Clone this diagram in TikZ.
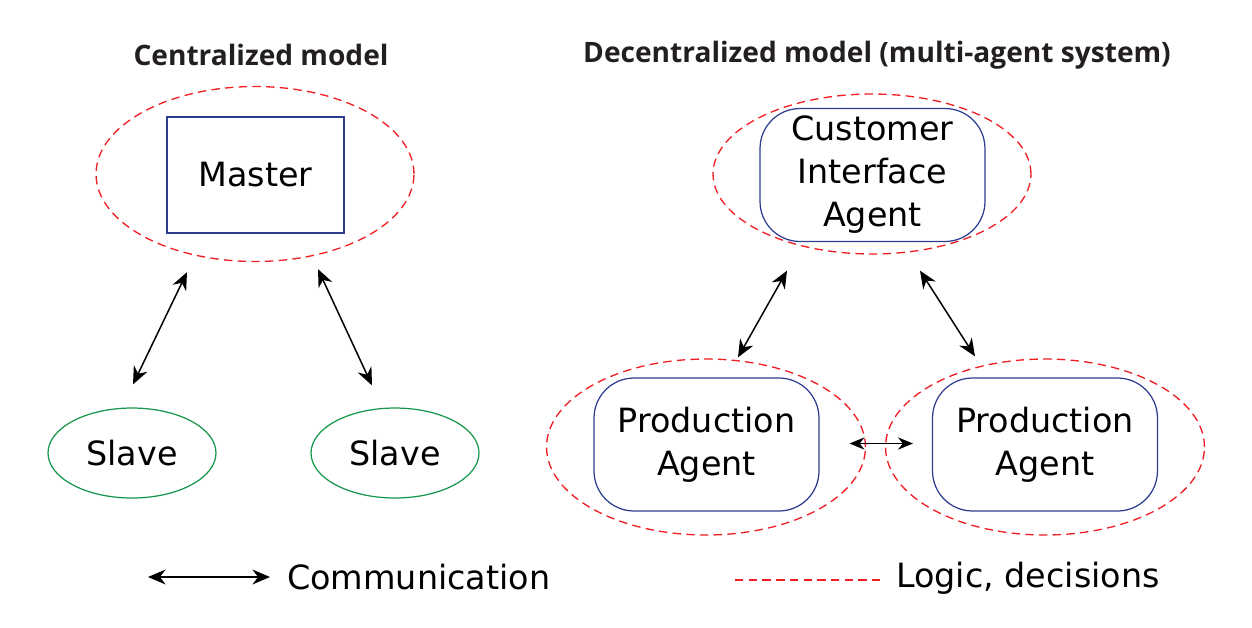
\documentclass[tikz,border=0pt]{standalone}
\usepackage{fontspec}
\setmainfont{DejaVu Sans}
\newfontfamily\titlefont{Open Sans}
\usetikzlibrary{arrows.meta,calc,shapes.geometric}
\definecolor{mdlogic}{RGB}{240,30,35}
\definecolor{mdbox}{RGB}{45,60,145}
\definecolor{mdslave}{RGB}{20,150,75}
\definecolor{mdtitle}{RGB}{35,31,32}
\tikzset{
  txt/.style={font=\fontsize{19}{24.5}\selectfont, align=center},
  ttl/.style={font=\titlefont\bfseries\fontsize{16}{19}\selectfont, text=mdtitle},
  logic/.style={draw=mdlogic, line width=0.75pt, dash pattern=on 4.8pt off 3pt},
  lell/.style={logic, ellipse, minimum width=6.36cm, minimum height=3.5cm},
  master/.style={txt, draw=mdbox, line width=0.7pt, minimum width=3.54cm, minimum height=2.32cm},
  agent/.style={txt, draw=mdbox, line width=0.7pt, rounded corners=0.8cm,
    minimum width=4.5cm, minimum height=2.66cm},
  slave/.style={txt, draw=mdslave, line width=0.7pt, ellipse,
    minimum width=3.36cm, minimum height=1.8cm},
  comm/.style={{Stealth[length=10pt,width=8.5pt]}-{Stealth[length=10pt,width=8.5pt]}, line width=0.85pt},
  scomm/.style={comm, {Stealth[length=8.5pt,width=7pt]}-{Stealth[length=8.5pt,width=7pt]}}
}
\begin{document}
\begin{tikzpicture}[x=0.02cm, y=-0.02cm]
  \useasboundingbox (0,0) rectangle (1252,627);

  % centralized side
  \node[ttl] (tc) at (261,55) {Centralized model};
  \node[lell] (mell) at (255,174) {};
  \node[master] (mst) at (255.5,175) {Master};
  \node[slave] (slaveL) at (132,453) {Slave};
  \node[slave] (slaveR) at (395,453) {Slave};
  \draw[comm] ($(mell.south)+(-68,10)$) -- ($(slaveL.north)+(1,-23)$);
  \draw[comm] ($(mell.south)+(63,7)$) -- ($(slaveR.north)+(-23,-22)$);

  % decentralized side
  \node[ttl] (td) at (877,55) {Decentralized model (multi-agent system)};
  \node[lell, minimum height=3.2cm] (cell) at (872,174) {};
  \node[agent] (cust) at (872.5,175) {Customer\\Interface\\Agent};
  \node[lell, minimum width=6.38cm, minimum height=3.52cm] (pell1) at (706,447) {};
  \node[lell, minimum width=6.38cm, minimum height=3.52cm] (pell2) at (1045,447) {};
  \node[agent] (prod1) at (706.5,444.5) {Production\\Agent};
  \node[agent] (prod2) at (1045,444.5) {Production\\Agent};
  \draw[comm] ($(cell.south)+(-85,16)$) -- ($(pell1.north)+(32,-1)$);
  \draw[comm] ($(cell.south)+(48,16)$) -- ($(pell2.north)+(-70,-2)$);
  \draw[scomm] ($(prod1.east)+(30,-1)$) -- ($(prod2.west)+(-19,-1)$);

  % legend
  \coordinate (ca) at (148,577);
  \coordinate (cb) at (270,577);
  \draw[comm] (ca) -- (cb);
  \node[txt, anchor=west] (ctxt) at (281,577) {Communication};
  \coordinate (la) at (735,580);
  \coordinate (lb) at (880,580);
  \draw[logic] (la) -- (lb);
  \node[txt, anchor=west] (ltxt) at (890,578) {Logic, decisions};
\end{tikzpicture}
\end{document}
